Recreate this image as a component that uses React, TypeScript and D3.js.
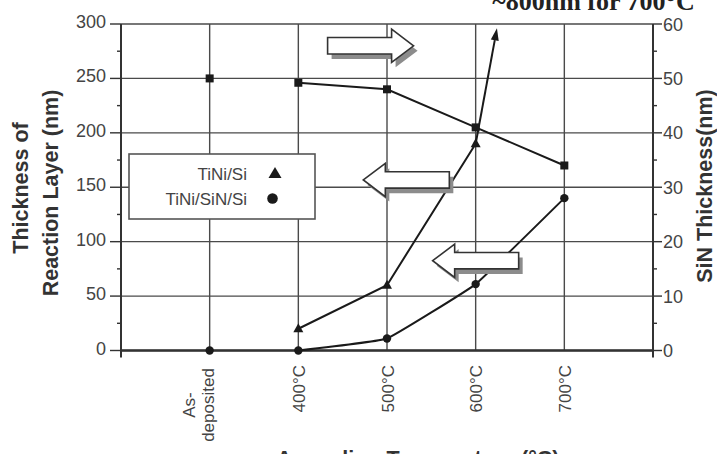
import React from 'react';
import * as d3 from 'd3';

// ---- data ----
const categories = ['As-deposited', '400°C', '500°C', '600°C', '700°C'];
const catIndex = [1, 2, 3, 4, 5];
// SiN thickness (right axis, squares). First point not connected.
const sinThickness = [50, 49.2, 48, 41, 34];
// TiNi/Si reaction layer (left axis, triangles); 700°C is off-scale (~800nm)
const tiniSi = [null, 20, 60, 190, null];
// TiNi/SiN/Si reaction layer (left axis, circles)
const tiniSinSi = [0, 0, 11, 61, 140];
const leftTicks = [0, 50, 100, 150, 200, 250, 300];
const rightTicks = [0, 10, 20, 30, 40, 50, 60];
// off-scale arrow for TiNi/Si at 700°C (tip in category-index / left-axis units)
const offScaleTip = [4.24, 296];
// block arrow annotations: tip position (category-index units, left axis units), direction
const blockArrowX = [3.3, 2.733, 3.515];
const blockArrowY = [280, 156.7, 82.5];
const blockArrowDir = [1, -1, -1];
const legendLabels = ['TiNi/Si', 'TiNi/SiN/Si'];

const W = 717, H = 454;
const M = { left: 121, right: 653, top: 24, bottom: 350.5 };

export default function App() {
  const x = d3.scaleLinear().domain([0, 6]).range([M.left, M.right]);
  const yL = d3.scaleLinear().domain([0, 300]).range([M.bottom, M.top]);
  const yR = d3.scaleLinear().domain([0, 60]).range([M.bottom, M.top]);

  const lineLin = d3.line<[number, number]>().x(d => d[0]).y(d => d[1]);
  const lineSmooth = d3.line<[number, number]>().x(d => d[0]).y(d => d[1]).curve(d3.curveCardinal.tension(0.75));

  const sqPts: [number, number][] = sinThickness.slice(1).map((v, i) => [x(catIndex[i + 1]), yR(v)]);
  const triPts: [number, number][] = [];
  tiniSi.forEach((v, i) => { if (v != null) triPts.push([x(catIndex[i]), yL(v)]); });
  const cirPts: [number, number][] = tiniSinSi.slice(1).map((v, i) => [x(catIndex[i + 1]), yL(v)]);

  const last = triPts[triPts.length - 1];
  const tip: [number, number] = [x(offScaleTip[0]), yL(offScaleTip[1])];
  const ang = Math.atan2(tip[1] - last[1], tip[0] - last[0]);
  const ahL = 12, ahW = 4;
  const ahBase: [number, number] = [tip[0] - ahL * Math.cos(ang), tip[1] - ahL * Math.sin(ang)];
  const nx = -Math.sin(ang), ny = Math.cos(ang);
  const arrowHead = [
    tip,
    [ahBase[0] + nx * ahW, ahBase[1] + ny * ahW],
    [ahBase[0] - nx * ahW, ahBase[1] - ny * ahW],
  ].map(p => p.join(',')).join(' ');

  const triPath = (cx: number, cy: number, w: number, h: number) =>
    `M${cx},${cy - h * 0.6} L${cx + w / 2},${cy + h * 0.4} L${cx - w / 2},${cy + h * 0.4} Z`;

  const blockArrow = (tx: number, ty: number, d: number) => {
    const L = 86, HL = 22, bh = 8.2, hh = 16.6;
    const pts = [
      [tx, ty],
      [tx - d * HL, ty - hh],
      [tx - d * HL, ty - bh],
      [tx - d * L, ty - bh],
      [tx - d * L, ty + bh],
      [tx - d * HL, ty + bh],
      [tx - d * HL, ty + hh],
    ];
    return pts.map(p => p.join(',')).join(' ');
  };

  const tickColor = '#444';
  const gridColor = '#4a4a4a';
  const font = 'Arial, "Liberation Sans", Helvetica, sans-serif';

  return (
    <svg width={W} height={H} style={{ position: 'absolute', left: 0, top: 0, background: '#fff' }}
      fontFamily={font}>
      <rect x={0} y={0} width={W} height={H} fill="#fff" />
      {/* horizontal gridlines */}
      {leftTicks.map(t => (
        <line key={'hg' + t} x1={M.left} x2={M.right} y1={yL(t)} y2={yL(t)} stroke={gridColor} strokeWidth={1.4} />
      ))}
      {/* vertical gridlines */}
      {catIndex.map(c => (
        <line key={'vg' + c} x1={x(c)} x2={x(c)} y1={M.top} y2={M.bottom} stroke={gridColor} strokeWidth={1.4} />
      ))}
      {/* axes */}
      <line x1={M.left} x2={M.left} y1={M.top} y2={M.bottom + 7} stroke="#333" strokeWidth={2} />
      <line x1={M.right} x2={M.right} y1={M.top} y2={M.bottom + 7} stroke="#333" strokeWidth={2} />
      <line x1={M.left} x2={M.right} y1={M.bottom} y2={M.bottom} stroke="#333" strokeWidth={2.4} />
      {/* left ticks */}
      {leftTicks.map(t => (
        <g key={'lt' + t}>
          <line x1={M.left - 11} x2={M.left} y1={yL(t)} y2={yL(t)} stroke="#333" strokeWidth={1.4} />
          <text x={M.left - 15} y={yL(t) + 4} textAnchor="end" fontSize={18} fill={tickColor}>{t}</text>
        </g>
      ))}
      {leftTicks.slice(0, -1).map(t => (
        <line key={'lm' + t} x1={M.left - 4} x2={M.left} y1={yL(t + 25)} y2={yL(t + 25)} stroke="#333" strokeWidth={1.4} />
      ))}
      {/* right ticks */}
      {rightTicks.map(t => (
        <g key={'rt' + t}>
          <line x1={M.right} x2={M.right + 9} y1={yR(t)} y2={yR(t)} stroke="#333" strokeWidth={1.4} />
          <text x={M.right + 10} y={yR(t) + 6.5} textAnchor="start" fontSize={18} fill={tickColor}>{t}</text>
        </g>
      ))}
      {rightTicks.slice(0, -1).map(t => (
        <line key={'rm' + t} x1={M.right} x2={M.right + 4} y1={yR(t + 5)} y2={yR(t + 5)} stroke="#333" strokeWidth={1.4} />
      ))}
      {/* x tick labels */}
      {categories.map((c, i) => {
        const cx = x(catIndex[i]);
        if (c === 'As-deposited') {
          return (
            <g key={c}>
              <text transform={`translate(${cx + 4},405) rotate(-90)`} textAnchor="middle" fontSize={17} fill={tickColor}>deposited</text>
              <text transform={`translate(${cx - 15},405) rotate(-90)`} textAnchor="middle" fontSize={17} fill={tickColor}>As-</text>
            </g>
          );
        }
        return (
          <text key={c} transform={`translate(${cx + 6.5},365) rotate(-90)`} textAnchor="end" fontSize={17} fill={tickColor}>{c}</text>
        );
      })}
      {/* axis titles */}
      <text transform="translate(28,188) rotate(-90)" textAnchor="middle" fontSize={21.5} fontWeight="bold" fill="#333">Thickness of</text>
      <text transform="translate(57.5,193) rotate(-90)" textAnchor="middle" fontSize={21.5} fontWeight="bold" fill="#333">Reaction Layer (nm)</text>
      <text transform="translate(712,186) rotate(-90)" textAnchor="middle" fontSize={21.5} fontWeight="bold" fill="#333">SiN Thickness(nm)</text>
      <text x={418} y={466} textAnchor="middle" fontSize={21.5} fontWeight="bold" fill="#333">Annealing Temperature (°C)</text>
      <text x={593.5} y={10} textAnchor="middle" fontSize={26} fontWeight="bold" fill="#222"
        fontFamily='"Liberation Serif", "Times New Roman", serif'>~800nm for 700°C</text>

      {/* data lines */}
      <path d={lineLin(sqPts) || ''} fill="none" stroke="#1a1a1a" strokeWidth={2} />
      <path d={lineLin(triPts) || ''} fill="none" stroke="#1a1a1a" strokeWidth={2} />
      <path d={lineSmooth(cirPts) || ''} fill="none" stroke="#1a1a1a" strokeWidth={2} />
      <line x1={last[0]} y1={last[1]} x2={ahBase[0]} y2={ahBase[1]} stroke="#1a1a1a" strokeWidth={2} />
      <polygon points={arrowHead} fill="#1a1a1a" />

      {/* markers */}
      {sinThickness.map((v, i) => (
        <rect key={'sq' + i} x={x(catIndex[i]) - 4} y={yR(v) - 4} width={8} height={8} fill="#1a1a1a" />
      ))}
      {tiniSi.map((v, i) => v == null ? null : (
        <path key={'tr' + i} d={triPath(x(catIndex[i]), yL(v), 10, 9)} fill="#1a1a1a" />
      ))}
      {tiniSinSi.map((v, i) => (
        <circle key={'ci' + i} cx={x(catIndex[i])} cy={yL(v)} r={4.2} fill="#1a1a1a" />
      ))}

      {/* block arrows */}
      {blockArrowX.map((bx, i) => {
        const tx = x(bx), ty = yL(blockArrowY[i]);
        const pts = blockArrow(tx, ty, blockArrowDir[i]);
        return (
          <g key={'ba' + i}>
            <polygon points={pts} transform="translate(4,5)" fill="#8c8c8c" />
            <polygon points={pts} fill="#fff" stroke="#333" strokeWidth={1.6} />
          </g>
        );
      })}

      {/* legend */}
      <rect x={129} y={154} width={186} height={65} fill="#fff" stroke="#555" strokeWidth={1.6} />
      <text x={247} y={180} textAnchor="end" fontSize={17} fill={tickColor}>{legendLabels[0]}</text>
      <text x={247} y={205} textAnchor="end" fontSize={17} fill={tickColor}>{legendLabels[1]}</text>
      <path d={triPath(275, 173.5, 13, 11)} fill="#1a1a1a" />
      <circle cx={272.5} cy={198.5} r={5.3} fill="#1a1a1a" />
    </svg>
  );
}
